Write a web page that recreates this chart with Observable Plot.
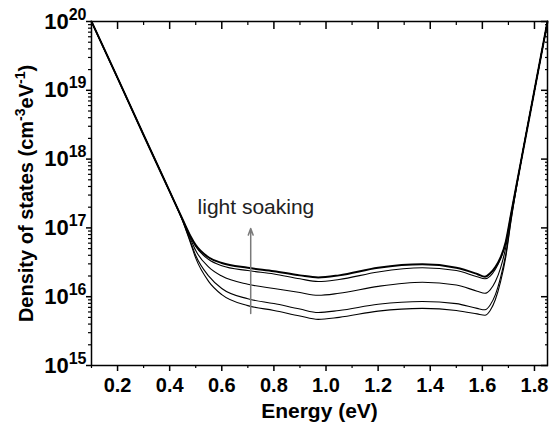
<!DOCTYPE html>
<html><head><meta charset="utf-8">
<script src="https://cdn.jsdelivr.net/npm/d3@7"></script>
<script src="https://cdn.jsdelivr.net/npm/@observablehq/plot@0.6"></script>
<style>html,body{margin:0;padding:0;background:#fff;}</style>
</head><body><div id="chart"></div>
<script>
// Energy grid (eV)
const energy = [0.10, 0.20, 0.30, 0.40, 0.45, 0.48, 0.50, 0.55, 0.60, 0.70, 0.80, 0.90, 0.97, 1.05, 1.20, 1.37, 1.50, 1.58, 1.61, 1.63, 1.65, 1.67, 1.69, 1.71, 1.75, 1.80, 1.85];
const logDos1 = [20.0, 19.18, 18.35, 17.53, 17.12, 16.88, 16.75, 16.57, 16.49, 16.42, 16.37, 16.31, 16.28, 16.31, 16.42, 16.47, 16.42, 16.33, 16.29, 16.34, 16.43, 16.57, 16.80, 17.20, 18.0, 19.0, 20.0];
const logDos2 = [20.0, 19.18, 18.35, 17.53, 17.12, 16.87, 16.73, 16.54, 16.45, 16.38, 16.33, 16.26, 16.22, 16.25, 16.36, 16.42, 16.38, 16.29, 16.26, 16.30, 16.40, 16.55, 16.79, 17.20, 18.0, 19.0, 20.0];
const logDos3 = [20.0, 19.18, 18.35, 17.53, 17.11, 16.84, 16.67, 16.43, 16.30, 16.18, 16.12, 16.06, 16.02, 16.05, 16.15, 16.21, 16.17, 16.08, 16.05, 16.10, 16.22, 16.42, 16.72, 17.18, 18.0, 19.0, 20.0];
const logDos4 = [20.0, 19.18, 18.35, 17.53, 17.10, 16.80, 16.60, 16.30, 16.12, 15.97, 15.90, 15.82, 15.77, 15.80, 15.89, 15.93, 15.90, 15.83, 15.81, 15.88, 16.03, 16.28, 16.62, 17.12, 18.0, 19.0, 20.0];
const logDos5 = [20.0, 19.18, 18.35, 17.53, 17.10, 16.78, 16.56, 16.22, 16.03, 15.87, 15.80, 15.72, 15.67, 15.70, 15.79, 15.83, 15.80, 15.75, 15.73, 15.80, 15.96, 16.22, 16.58, 17.10, 18.0, 19.0, 20.0];
const seriesLogs = [logDos1, logDos2, logDos3, logDos4, logDos5];
const seriesNames = ["s1", "s2", "s3", "s4", "s5"];

const xTicks = [0.2, 0.4, 0.6, 0.8, 1.0, 1.2, 1.4, 1.6, 1.8];
const xTickLabels = ["0.2", "0.4", "0.6", "0.8", "1.0", "1.2", "1.4", "1.6", "1.8"];
const xMinorTicks = [0.1, 0.3, 0.5, 0.7, 0.9, 1.1, 1.3, 1.5, 1.7];
const yTicks = [1e15, 1e16, 1e17, 1e18, 1e19, 1e20];
const yTickLabels = ["10^{15}", "10^{16}", "10^{17}", "10^{18}", "10^{19}", "10^{20}"];
const yMinorMantissas = [2, 3, 4, 5, 6, 7, 8, 9];
const yMinorTicks = yTicks.slice(0, -1).flatMap(d => yMinorMantissas.map(m => m * d));

const arrowData = [{x1: 0.711, y1: 5.7e15, x2: 0.711, y2: 9.8e16}];
const annotation = [{x: 0.731, y: 2.0e17, text: "light soaking"}];
const xLabel = "Energy (eV)";
const yLabel = "Density of states (cm^{-3}eV^{-1})";

const rows = seriesLogs.flatMap((logs, i) => energy.map((e, j) => ({series: seriesNames[i], energy: e, dos: Math.pow(10, logs[j])})));
const topRows = rows.filter(d => d.series === "s1");
const otherRows = rows.filter(d => d.series !== "s1");

const lookup = (ticks, labels) => d => {
  const k = ticks.findIndex(t => Math.abs(t - d) <= Math.abs(d) * 1e-9);
  return k >= 0 ? labels[k] : "";
};

const svg = Plot.plot({
  width: 550, height: 427,
  marginLeft: 91, marginRight: 3, marginTop: 21, marginBottom: 62,
  style: {fontFamily: "'Liberation Sans', Arial, sans-serif", fontSize: "20px", fontWeight: "bold", color: "black", background: "white"},
  x: {domain: [0.1, 1.85], label: null},
  y: {type: "log", domain: [1e15, 1e20], label: null},
  marks: [
    Plot.line(otherRows, {x: "energy", y: "dos", z: "series", stroke: "black", strokeWidth: 1.1, curve: "monotone-x"}),
    Plot.line(topRows, {x: "energy", y: "dos", stroke: "black", strokeWidth: 2, curve: "monotone-x"}),
    Plot.arrow(arrowData, {x1: "x1", y1: "y1", x2: "x2", y2: "y2", stroke: "#7a7a7a", strokeWidth: 1.5, headLength: 7, headAngle: 40}),
    Plot.text(annotation, {x: "x", y: "y", text: "text", fontSize: 21, fontWeight: "normal", fill: "#222"}),
    Plot.axisX({ticks: xTicks, tickSize: 6, tickPadding: 6, tickFormat: lookup(xTicks, xTickLabels), label: null, strokeWidth: 1.5, fontSize: 20}),
    Plot.axisX({ticks: xMinorTicks, tickSize: 3, tickFormat: () => "", label: null, strokeWidth: 1.2}),
    Plot.axisX({anchor: "top", ticks: xTicks, tickSize: -7, tickFormat: () => "", label: null, strokeWidth: 1.5}),
    Plot.axisX({anchor: "top", ticks: xMinorTicks, tickSize: -3, tickFormat: () => "", label: null, strokeWidth: 1.2}),
    Plot.axisY({ticks: yTicks, tickSize: 5, tickPadding: 0, tickFormat: lookup(yTicks, yTickLabels), label: null, strokeWidth: 1.5, fontSize: 22}),
    Plot.axisY({ticks: yMinorTicks, tickSize: 3, tickFormat: () => "", label: null, strokeWidth: 1.2}),
    Plot.axisY({anchor: "right", ticks: yTicks, tickSize: -7, tickFormat: () => "", label: null, strokeWidth: 1.5}),
    Plot.axisY({anchor: "right", ticks: yMinorTicks, tickSize: -3, tickFormat: () => "", label: null, strokeWidth: 1.2}),
    Plot.text([xLabel], {frameAnchor: "bottom", text: d => d, dy: 38, lineAnchor: "top", textAnchor: "middle", fontSize: 21, fontWeight: "bold"}),
    Plot.text([yLabel], {frameAnchor: "left", text: d => d, dx: -65, rotate: -90, textAnchor: "middle", lineAnchor: "middle", fontSize: 20, fontWeight: "bold"}),
    Plot.frame({stroke: "black", strokeWidth: 1.5})
  ]
});

// Turn "^{...}" markup into real superscript tspans
function applySup(el, supSize, shift) {
  const s = el.textContent;
  if (!s.includes("^{")) return;
  const parts = s.split(/(\^\{[^}]*\})/).filter(p => p.length);
  while (el.firstChild) el.removeChild(el.firstChild);
  let raised = false;
  for (const p of parts) {
    const t = document.createElementNS("http://www.w3.org/2000/svg", "tspan");
    if (p.startsWith("^{")) {
      t.textContent = p.slice(2, -1);
      t.setAttribute("font-size", supSize + "px");
      if (!raised) { t.setAttribute("dy", -shift); raised = true; }
    } else {
      t.textContent = p;
      if (raised) { t.setAttribute("dy", shift); raised = false; }
    }
    el.appendChild(t);
  }
}
svg.querySelectorAll("text").forEach(el => {
  if (el.textContent.startsWith("10^")) applySup(el, 16, 9);
  else applySup(el, 14, 8);
});
document.getElementById("chart").appendChild(svg);
</script>
</body></html>
